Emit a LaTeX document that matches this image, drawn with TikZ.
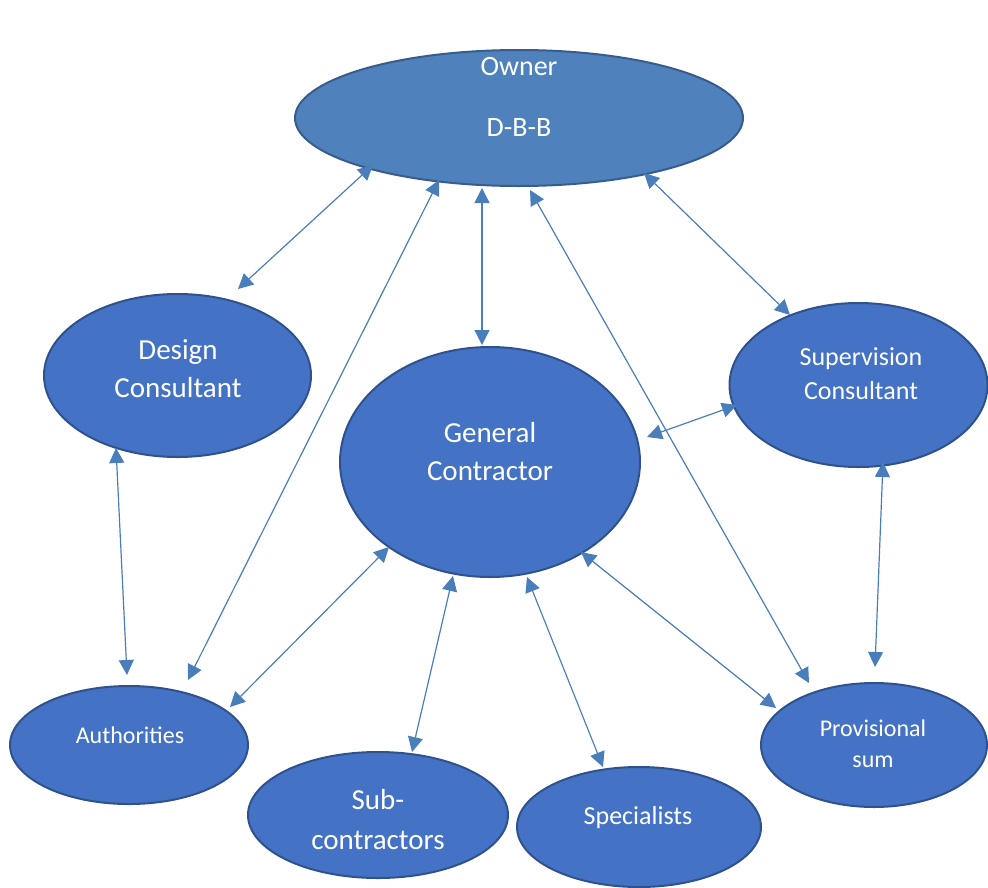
\documentclass[tikz,border=0pt]{standalone}
\usepackage{fontspec}
\setmainfont{Carlito}
\usetikzlibrary{arrows.meta,shapes.geometric}
\definecolor{ownerfill}{HTML}{4F81BD}
\definecolor{ownerline}{HTML}{385D8A}
\definecolor{partyfill}{HTML}{4472C4}
\definecolor{partyline}{HTML}{2F528F}
\definecolor{linkblue}{HTML}{4A7EBB}

\begin{document}
\begin{tikzpicture}[x=1pt,y=-1pt,
  party/.style={ellipse, draw=partyline, fill=partyfill, line width=2pt, inner sep=0pt},
  ownerbox/.style={party, draw=ownerline, fill=ownerfill},
  caption/.style={text=white, align=center, inner sep=0pt},
  link/.style={draw=linkblue, line width=1.2pt,
    {Triangle[length=15pt,width=15pt]}-{Triangle[length=15pt,width=15pt]}}]
\useasboundingbox (0,0) rectangle (988,887);

% parties
\node[ownerbox, minimum width=448pt, minimum height=136pt] (owner) at (519,118) {};
\node[party, minimum width=267pt, minimum height=163pt] (design) at (177.5,375.5) {};
\node[party, minimum width=300pt, minimum height=230pt] (gc) at (490,462) {};
\node[party, minimum width=258pt, minimum height=164pt] (super) at (858.5,385) {};
\node[party, minimum width=238pt, minimum height=118pt] (auth) at (129,745) {};
\node[party, minimum width=260pt, minimum height=126pt] (sub) at (378,815) {};
\node[party, minimum width=244pt, minimum height=120pt] (spec) at (639,827) {};
\node[party, minimum width=226pt, minimum height=124pt] (prov) at (874,745) {};

% labels
\node[caption, font=\fontsize{28}{61}\selectfont] (ownertxt) at (519,97) {Owner\\D-B-B};
\node[caption, font=\fontsize{29}{38}\selectfont] (designtxt) at (178,369) {Design\\Consultant};
\node[caption, font=\fontsize{29}{38}\selectfont] (gctxt) at (490,452) {General\\Contractor};
\node[caption, font=\fontsize{26}{34}\selectfont] (supertxt) at (861,374) {Supervision\\Consultant};
\node[caption, font=\fontsize{24}{29}\selectfont] (authtxt) at (130,735) {Authorities};
\node[caption, font=\fontsize{29}{40}\selectfont] (subtxt) at (378,820) {Sub-\\contractors};
\node[caption, font=\fontsize{26}{31}\selectfont] (spectxt) at (638,818) {Specialists};
\node[caption, font=\fontsize{24}{31}\selectfont] (provtxt) at (873,744) {Provisional\\sum};

% connector ends
\coordinate (od1) at (373,165);  \coordinate (od2) at (238,289);
\coordinate (oa1) at (439,180);  \coordinate (oa2) at (188,680);
\coordinate (og1) at (482,188);  \coordinate (og2) at (482,345);
\coordinate (op1) at (530,190);  \coordinate (op2) at (809,683);
\coordinate (os1) at (644,173);  \coordinate (os2) at (790,315);
\coordinate (gs1) at (647,437);  \coordinate (gs2) at (737,405);
\coordinate (da1) at (116,448);  \coordinate (da2) at (127,675);
\coordinate (ga1) at (389,547);  \coordinate (ga2) at (230,707);
\coordinate (gb1) at (453,576);  \coordinate (gb2) at (412,752);
\coordinate (gc1) at (527,577);  \coordinate (gc2) at (603,767);
\coordinate (gp1) at (581,552);  \coordinate (gp2) at (776,708);
\coordinate (sp1) at (883,462);  \coordinate (sp2) at (875,667);

% relationships
\draw[link] (od1) -- (od2);
\draw[link] (oa1) -- (oa2);
\draw[link] (og1) -- (og2);
\draw[link] (op1) -- (op2);
\draw[link] (os1) -- (os2);
\draw[link] (gs1) -- (gs2);
\draw[link] (da1) -- (da2);
\draw[link] (ga1) -- (ga2);
\draw[link] (gb1) -- (gb2);
\draw[link] (gc1) -- (gc2);
\draw[link] (gp1) -- (gp2);
\draw[link] (sp1) -- (sp2);
\end{tikzpicture}
\end{document}
